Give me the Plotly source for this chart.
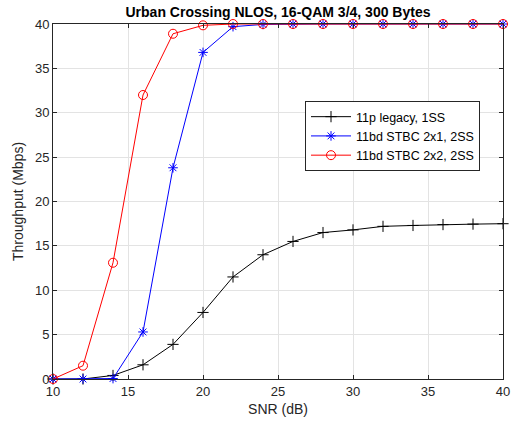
import plotly.graph_objects as go

# SNR grid (dB)
snr = [10, 12, 14, 16, 18, 20, 22, 24, 26, 28, 30, 32, 34, 36, 38, 40]

# throughput (Mbps)
legacy_1ss = [0, 0, 0.4, 1.6, 3.9, 7.5, 11.5, 14.0, 15.5, 16.5, 16.8, 17.2, 17.3, 17.4, 17.45, 17.5]
stbc_2x1 = [0, 0, 0.05, 5.3, 23.8, 36.8, 39.7, 39.95, 40, 40, 40, 40, 40, 40, 40, 40]
stbc_2x2 = [0, 1.5, 13.1, 32.0, 38.9, 39.85, 40, 40, 40, 40, 40, 40, 40, 40, 40, 40]

names = ["11p legacy, 1SS", "11bd STBC 2x1, 2SS", "11bd STBC 2x2, 2SS"]
colors = ["#000000", "#0000ff", "#ff0000"]
symbols = ["cross-thin-open", "asterisk-open", "circle-open"]
sizes = [8, 8, 9]

fig = go.Figure()
for ys, nm, c, s, sz in zip([legacy_1ss, stbc_2x1, stbc_2x2], names, colors, symbols, sizes):
    fig.add_trace(go.Scatter(
        x=snr, y=ys, name=nm, mode="lines+markers",
        line=dict(color=c, width=1),
        marker=dict(symbol=s, size=sz, color=c, line=dict(color=c, width=1)),
        cliponaxis=False,
    ))

axis_style = dict(
    showgrid=True, gridcolor="#e3e3e3", gridwidth=1,
    showline=True, linecolor="#262626", linewidth=1, mirror="ticks",
    ticks="inside", ticklen=4, tickcolor="#262626",
    zeroline=False, tickfont=dict(size=13, color="#262626"),
    automargin=False,
)

fig.update_layout(
    width=514, height=428,
    margin=dict(l=53, r=11, t=24, b=49),
    paper_bgcolor="white", plot_bgcolor="white",
    font=dict(family="Liberation Sans, Arial", color="#262626"),
    title=dict(text="<b>Urban Crossing NLOS, 16-QAM 3/4, 300 Bytes</b>",
               xref="paper", x=0.5, xanchor="center",
               yref="container", y=0.972, yanchor="middle",
               font=dict(size=14, color="#000000")),
    xaxis=dict(range=[10, 40], dtick=5,
               title=dict(text="SNR (dB)", font=dict(size=14), standoff=6), **axis_style),
    yaxis=dict(range=[0, 40], dtick=5,
               title=dict(text="Throughput (Mbps)", font=dict(size=14), standoff=8), **axis_style),
    legend=dict(x=0.56, y=0.783, xanchor="left", yanchor="top",
                bgcolor="white", bordercolor="#262626", borderwidth=1,
                font=dict(size=12.5, color="#000000"),
                tracegroupgap=0, itemwidth=40),
    showlegend=True,
)

# page body has an 8px default margin; drop it so the figure sits at 0,0
fig.write_html("out.html", config={"displayModeBar": False},
               post_script="document.body.style.margin='0';")
